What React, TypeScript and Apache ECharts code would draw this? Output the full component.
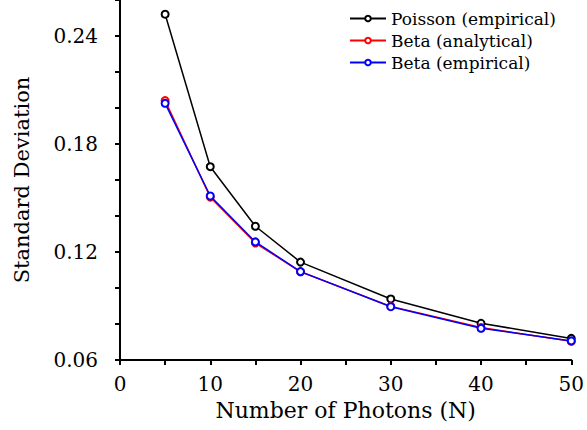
import React, { useEffect, useRef } from "react";
import * as echarts from "echarts";

const photons = [5, 10, 15, 20, 30, 40, 50];
const poissonEmpirical = [0.2521, 0.1674, 0.1343, 0.1144, 0.0939, 0.0804, 0.072];
const betaAnalytical = [0.2041, 0.1505, 0.125, 0.109, 0.0898, 0.078, 0.0704];
const betaEmpirical = [0.2026, 0.1511, 0.1256, 0.1091, 0.0896, 0.0776, 0.0706];
const seriesNames = ["Poisson (empirical)", "Beta (analytical)", "Beta (empirical)"];
const seriesColors = ["#000000", "#ff0000", "#0000ff"];

const FONT = "DejaVu Serif";

export default function App() {
  const ref = useRef<HTMLDivElement>(null);
  useEffect(() => {
    if (!ref.current) return;
    const chart = echarts.init(ref.current, undefined, { renderer: "svg" });
    const datas = [poissonEmpirical, betaAnalytical, betaEmpirical];
    chart.setOption({
      animation: false,
      backgroundColor: "#ffffff",
      grid: { left: 120, right: 15, top: 0, bottom: 70 },
      legend: {
        orient: "vertical",
        left: 344,
        top: 5,
        itemWidth: 36,
        itemHeight: 7,
        itemGap: 5,
        textStyle: { fontFamily: FONT, fontSize: 17, color: "#000" },
        data: seriesNames,
      },
      xAxis: {
        type: "value",
        min: 0,
        max: 50,
        interval: 5,
        name: "Number of Photons (N)",
        nameLocation: "middle",
        nameGap: 39,
        nameTextStyle: { fontFamily: FONT, fontSize: 22, color: "#000" },
        axisLine: { lineStyle: { color: "#000", width: 2 } },
        axisTick: { length: 5, lineStyle: { color: "#000", width: 2 } },
        splitLine: { show: false },
        axisLabel: {
          fontFamily: FONT,
          fontSize: 20,
          color: "#000",
          margin: 14,
          formatter: (v: number) => (v % 10 === 0 ? String(v) : ""),
        },
      },
      yAxis: {
        type: "value",
        min: 0.06,
        max: 0.26,
        interval: 0.02,
        name: "Standard Deviation",
        nameLocation: "middle",
        nameGap: 88,
        nameTextStyle: { fontFamily: FONT, fontSize: 21, color: "#000" },
        axisLine: { lineStyle: { color: "#000", width: 2 } },
        axisTick: { length: 5, lineStyle: { color: "#000", width: 2 } },
        splitLine: { show: false },
        axisLabel: {
          fontFamily: FONT,
          fontSize: 20,
          color: "#000",
          margin: 22,
          formatter: (v: number) => {
            const r = v / 0.06;
            return Math.abs(r - Math.round(r)) < 1e-6 ? v.toFixed(2) : "";
          },
        },
      },
      series: seriesNames.map((name, i) => ({
        name,
        type: "line",
        data: photons.map((x, j) => [x, datas[i][j]]),
        symbol: "emptyCircle",
        symbolSize: 7,
        showSymbol: true,
        lineStyle: { color: seriesColors[i], width: 1.5 },
        itemStyle: { color: seriesColors[i], borderColor: seriesColors[i], borderWidth: 1.5 },
        z: 2 + i,
      })),
    });
    return () => chart.dispose();
  }, []);
  return <div ref={ref} style={{ width: 587, height: 430, position: "absolute", left: 0, top: 0 }} />;
}
